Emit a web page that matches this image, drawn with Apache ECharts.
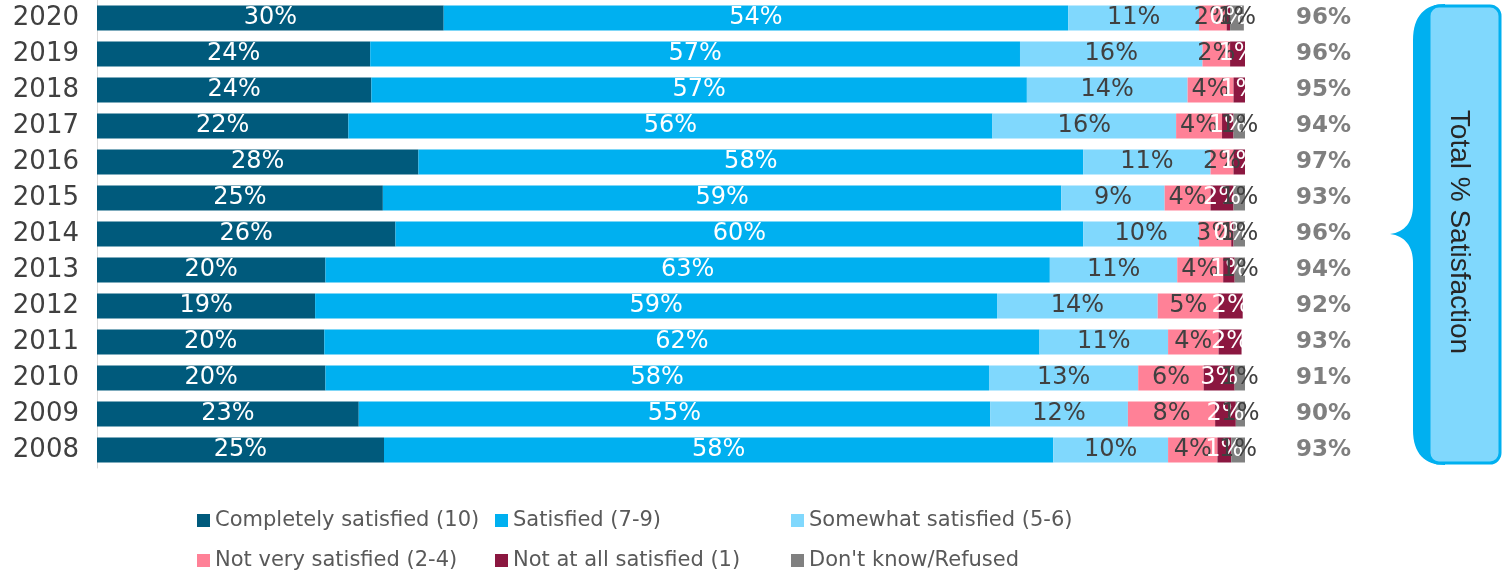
<!DOCTYPE html>
<html>
<head>
<meta charset="utf-8">
<script src="https://cdn.jsdelivr.net/npm/echarts@6/dist/echarts.min.js"></script>
<style>
  html, body { margin: 0; padding: 0; background: #ffffff; }
  #chart { width: 1503px; height: 570px; }
</style>
</head>
<body>
<div id="chart"></div>
<script>
// Survey years, newest first (top row)
const years = ['2020', '2019', '2018', '2017', '2016', '2015', '2014', '2013', '2012', '2011', '2010', '2009', '2008'];

// Share of respondents per answer group, in percent
const completelySatisfied = [30.2, 23.8, 23.9, 21.9, 28.0, 24.9, 26.0, 19.9, 19.0, 19.8, 19.9, 22.8, 25.0];
const satisfied           = [54.4, 56.6, 57.1, 56.1, 57.9, 59.1, 59.9, 63.1, 59.4, 62.3, 57.8, 55.0, 58.3];
const somewhatSatisfied   = [11.4, 15.9, 14.0, 16.0, 11.1,  9.0, 10.1, 11.1, 14.0, 11.2, 13.0, 12.0, 10.0];
const notVerySatisfied    = [ 2.4,  2.4,  4.0,  4.0,  2.0,  4.0,  2.8,  4.0,  5.3,  4.4,  5.7,  7.6,  4.3];
const notAtAllSatisfied   = [ 0.3,  1.3,  1.0,  1.0,  1.0,  2.0,  0.2,  1.0,  2.1,  2.0,  2.7,  1.8,  1.2];
const dontKnowRefused     = [ 1.2,  null, null, 1.0, null, 1.0,  1.0,  1.0, null, null, 0.9,  0.8,  1.2];

// Total % satisfied (groups 5-10) shown to the right of each bar
const totalSatisfaction = [96, 96, 95, 94, 97, 93, 96, 94, 92, 93, 91, 90, 93];

const seriesDefs = [
  { name: 'Completely satisfied (10)', data: completelySatisfied, color: '#005a7c', text: '#ffffff' },
  { name: 'Satisfied (7-9)',           data: satisfied,           color: '#00b0f0', text: '#ffffff' },
  { name: 'Somewhat satisfied (5-6)',  data: somewhatSatisfied,   color: '#80d8fd', text: '#404040' },
  { name: 'Not very satisfied (2-4)',  data: notVerySatisfied,    color: '#ff8197', text: '#404040' },
  { name: 'Not at all satisfied (1)',  data: notAtAllSatisfied,   color: '#8b1740', text: '#ffffff' },
  { name: "Don't know/Refused",        data: dontKnowRefused,     color: '#808080', text: '#404040' }
];

const FONT = '"DejaVu Sans", Verdana, sans-serif';

// Sample a chain of cubic Bézier segments into polygon points
function bezierPoints(start, segments, steps) {
  const pts = [start];
  let p0 = start;
  segments.forEach(([c1, c2, p3]) => {
    for (let i = 1; i <= steps; i++) {
      const t = i / steps, u = 1 - t;
      pts.push([
        u * u * u * p0[0] + 3 * u * u * t * c1[0] + 3 * u * t * t * c2[0] + t * t * t * p3[0],
        u * u * u * p0[1] + 3 * u * u * t * c1[1] + 3 * u * t * t * c2[1] + t * t * t * p3[1]
      ]);
    }
    p0 = p3;
  });
  return pts;
}

// Curly brace outline joining the totals column to the caption box
const bracePoints = bezierPoints([1445, 4], [
  [[1425, 4], [1413, 16], [1413, 40]],
  [[1413, 100], [1413, 150], [1413, 205]],
  [[1413, 222], [1405, 232], [1390, 234]],
  [[1405, 236], [1413, 246], [1413, 263]],
  [[1413, 320], [1413, 380], [1413, 430]],
  [[1413, 454], [1425, 465], [1445, 465]]
], 16);

const chart = echarts.init(document.getElementById('chart'), null, { renderer: 'canvas' });

const series = seriesDefs.map(s => ({
  name: s.name,
  type: 'bar',
  stack: 'total',
  barWidth: 25,
  data: s.data,
  itemStyle: { color: s.color },
  label: {
    show: true,
    position: 'inside',
    color: s.text,
    fontFamily: FONT,
    fontSize: 24,
    formatter: p => (p.value == null ? '' : Math.round(p.value) + '%')
  },
  emphasis: { disabled: true },
  animation: false
}));

// Legend laid out as a 3 x 2 grid with evenly spaced columns
const legendCols = [192, 490, 786];
const legendRows = [505, 545];
const legends = seriesDefs.map((s, i) => ({
  data: [s.name],
  left: legendCols[i % 3],
  top: legendRows[Math.floor(i / 3)],
  icon: 'rect', itemWidth: 13, itemHeight: 13, itemGap: 0,
  textStyle: { fontFamily: FONT, fontSize: 21, color: '#595959' },
  selectedMode: false
}));

chart.setOption({
  animation: false,
  grid: { left: 97, right: 258, top: 0, bottom: 102, containLabel: false },
  xAxis: {
    type: 'value',
    min: 0,
    max: 100,
    show: false
  },
  yAxis: [
    {
      type: 'category',
      data: years,
      inverse: true,
      axisLine: { show: true, lineStyle: { color: '#d9d9d9', width: 1 } },
      axisTick: { show: false },
      axisLabel: { fontFamily: FONT, fontSize: 26, color: '#404040', margin: 18 }
    },
    {
      type: 'category',
      data: totalSatisfaction.map(v => v + '%'),
      inverse: true,
      position: 'right',
      axisLine: { show: false },
      axisTick: { show: false },
      axisLabel: { fontFamily: FONT, fontSize: 23, fontWeight: 'bold', color: '#7f7f7f', margin: 51, align: 'left' }
    }
  ],
  legend: legends,
  graphic: [
    {
      type: 'polygon',
      shape: { points: bracePoints },
      style: { fill: '#00b0f0' },
      z: 10
    },
    {
      type: 'rect',
      shape: { x: 1429, y: 6, width: 71, height: 457, r: 10 },
      style: { fill: '#80d8fd', stroke: '#00b0f0', lineWidth: 3 },
      z: 11
    },
    {
      type: 'text',
      x: 1459, y: 232,
      rotation: -Math.PI / 2,
      style: {
        text: 'Total % Satisfaction',
        fontFamily: '"Liberation Sans", Arial, sans-serif',
        fontSize: 28,
        fill: '#262626',
        align: 'center',
        verticalAlign: 'middle'
      },
      z: 12
    }
  ],
  series: series
});
</script>
</body>
</html>
